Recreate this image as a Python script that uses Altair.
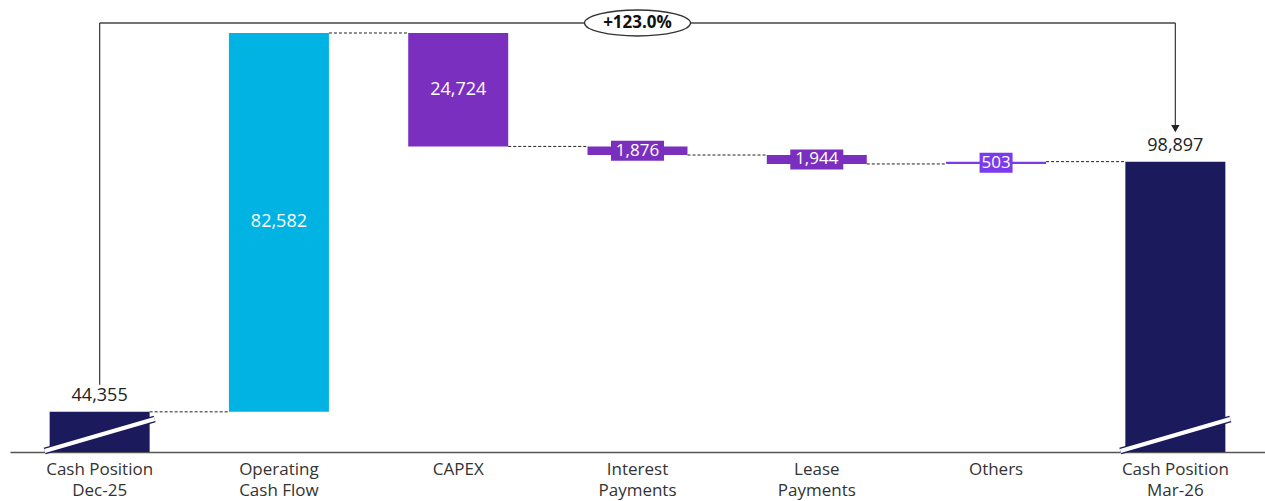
import altair as alt
import pandas as pd

categories = ["Cash Position|Dec-25", "Operating|Cash Flow", "CAPEX", "Interest|Payments",
              "Lease|Payments", "Others", "Cash Position|Mar-26"]
amounts = [44355, 82582, -24724, -1876, -1944, 503, 98897]
kinds = ["total", "delta", "delta", "delta", "delta", "delta", "total"]
value_labels = ["44,355", "82,582", "24,724", "1,876", "1,944", "503", "98,897"]
colors = ["#1B1A5C", "#00B3E3", "#7B2FBE", "#7B2FBE", "#7B2FBE", "#7C3AED", "#1B1A5C"]

FONT = "Open Sans"
W, H = 1255, 442
Y_LO, Y_HI = 35600, 131950
px_per_unit = H / (Y_HI - Y_LO)

rows = []
running = 0
for c, a, k, lab, col in zip(categories, amounts, kinds, value_labels, colors):
    if k == "total":
        start, end = Y_LO, a
        running = a
    else:
        start, end = running, running + a
        running = end
    small = k == "delta" and abs(a) * px_per_unit < 30
    rows.append(dict(name=c, start=start, end=end, mid=(start + end) / 2, label=lab,
                     color=col, kind=k, small=small, boxw=len(lab) * 10 + 3))
df = pd.DataFrame(rows)

conn = pd.DataFrame([dict(name=rows[i]["name"], nxt=rows[i + 1]["name"], level=rows[i]["end"])
                     for i in range(len(rows) - 1)])

ysc = alt.Scale(domain=[Y_LO, Y_HI], nice=False, zero=False)
xsc = alt.Scale(domain=categories, paddingInner=0, paddingOuter=0)
xenc = alt.X("name:N", scale=xsc,
             axis=alt.Axis(title=None, labelAngle=0, ticks=False, domainColor="#555",
                           domainWidth=1.5, labelExpr="split(datum.label, '|')",
                           labelFontSize=17, labelColor="#333", labelFont=FONT,
                           labelAlign="center", labelPadding=17, labelLineHeight=21))


def XF(field):
    return alt.X(field, scale=xsc)


X = XF("name:N")

base = alt.Chart(df)

bars = base.mark_bar(size=100).encode(
    x=xenc, y=alt.Y("start:Q", scale=ysc, axis=None), y2="end:Q",
    color=alt.Color("color:N", scale=None))

connectors = alt.Chart(conn).mark_rule(strokeDash=[3, 2], color="#222", strokeWidth=1,
                                       xOffset=50, x2Offset=-50).encode(
    x=X, x2="nxt:N", y=alt.Y("level:Q", scale=ysc, axis=None))

totals = base.transform_filter("datum.kind == 'total'")
slash_dark = totals.mark_rule(color="#1B1A5C", strokeWidth=7, xOffset=-55, x2Offset=55,
                              yOffset=-1, y2Offset=-33).encode(
    x=X, x2="name:N", y=alt.Y("start:Q", scale=ysc, axis=None), y2="start:Q")
slash_white = totals.mark_rule(color="white", strokeWidth=4, xOffset=-55, x2Offset=55,
                               yOffset=-1, y2Offset=-33).encode(
    x=X, x2="name:N", y=alt.Y("start:Q", scale=ysc, axis=None), y2="start:Q")

total_labels = totals.mark_text(fontSize=18, color="#222", font=FONT, dy=-16).encode(
    x=X, y=alt.Y("end:Q", scale=ysc, axis=None), text="label:N")

inside = base.transform_filter("datum.kind == 'delta' && !datum.small").mark_text(
    fontSize=18, color="white", font=FONT).encode(
    x=X, y=alt.Y("mid:Q", scale=ysc, axis=None), text="label:N")

smalls = base.transform_filter("datum.small")
boxes = smalls.mark_tick(thickness=20, opacity=1).encode(
    x=X, y=alt.Y("mid:Q", scale=ysc, axis=None),
    size=alt.Size("boxw:Q", scale=None), color=alt.Color("color:N", scale=None))
box_text = smalls.mark_text(fontSize=17, color="white", font=FONT).encode(
    x=X, y=alt.Y("mid:Q", scale=ysc, axis=None), text="label:N")

# bracket showing growth
first, last = rows[0], rows[-1]
top = max(r["end"] for r in rows)
pct = (last["end"] / first["end"] - 1) * 100
br = pd.DataFrame([dict(c0=first["name"], c6=last["name"], mid_cat=categories[3], top=top,
                        v0=first["end"], v6=last["end"], txt=f"+{pct:.1f}%")])
bb = alt.Chart(br)
LC = "#444"
left_v = bb.mark_rule(color=LC, strokeWidth=1.3, yOffset=-10, y2Offset=-27).encode(
    x=XF("c0:N"), y=alt.Y("top:Q", scale=ysc, axis=None), y2="v0:Q")
horiz = bb.mark_rule(color=LC, strokeWidth=1.3, yOffset=-10, y2Offset=-10).encode(
    x=XF("c0:N"), x2="c6:N", y=alt.Y("top:Q", scale=ysc, axis=None), y2="top:Q")
right_v = bb.mark_rule(color=LC, strokeWidth=1.3, yOffset=-10, y2Offset=-36).encode(
    x=XF("c6:N"), y=alt.Y("top:Q", scale=ysc, axis=None), y2="v6:Q")
arrow = bb.mark_point(shape="triangle-down", filled=True, size=70, color="#222", opacity=1,
                      yOffset=-33).encode(
    x=XF("c6:N"), y=alt.Y("v6:Q", scale=ysc, axis=None))
ellipse = bb.mark_point(shape="M-1,0A1,0.245,0,1,1,1,0A1,0.245,0,1,1,-1,0Z", size=11236,
                        filled=True, fill="white", stroke="#333", strokeWidth=1.3, opacity=1,
                        yOffset=-10).encode(
    x=XF("mid_cat:N"), y=alt.Y("top:Q", scale=ysc, axis=None))
ell_text = bb.mark_text(fontSize=17, fontWeight="bold", color="#111", font=FONT, dy=-10).encode(
    x=XF("mid_cat:N"), y=alt.Y("top:Q", scale=ysc, axis=None), text="txt:N")

chart = alt.layer(connectors, bars, slash_dark, slash_white, total_labels, inside, boxes, box_text,
                  left_v, horiz, right_v, arrow, ellipse, ell_text).properties(
    width=W, height=H, autosize=alt.AutoSizeParams(type="none"), background="white",
    padding={"left": 10, "top": 10, "right": 0, "bottom": 49}
).configure_view(stroke=None, strokeWidth=0)

chart.save("out.html", embed_options={"renderer": "svg", "actions": False})
